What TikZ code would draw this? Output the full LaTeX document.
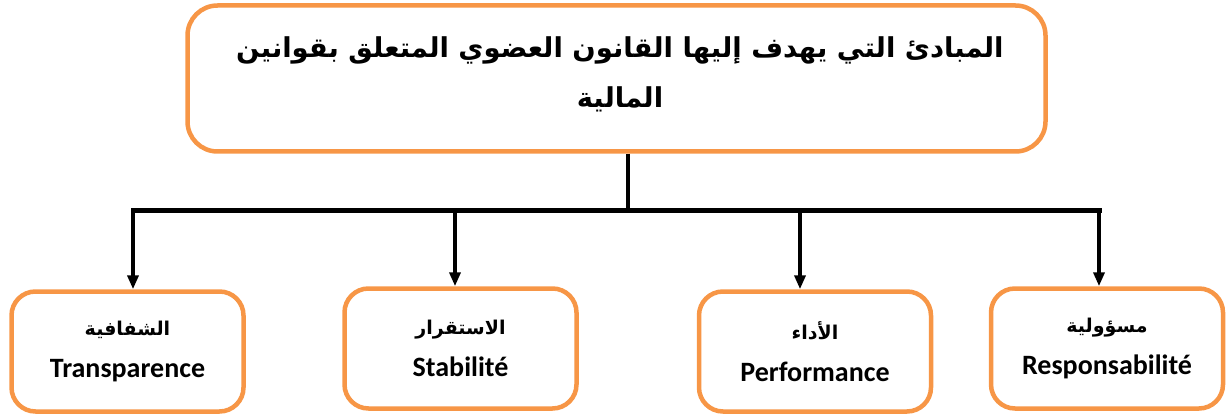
\documentclass[tikz,border=0pt]{standalone}
\usepackage{fontspec}
\usetikzlibrary{arrows.meta}
\TeXXeTstate=1
\newfontfamily\arabicfont[Script=Arabic]{DejaVu Sans}
\setmainfont{Carlito}
\definecolor{boxorange}{HTML}{F79646}
\newcommand\artext[1]{{\arabicfont\bfseries\fontsize{19}{22}\selectfont\beginR #1\endR}}
\begin{document}
\begin{tikzpicture}[x=1pt,y=-1pt,
  box/.style={draw=boxorange,line width=4.5pt,fill=white,rounded corners=24pt,
    align=center,inner sep=0pt},
  topbox/.style={box,rounded corners=30pt,minimum width=858pt,minimum height=146pt},
  titletext/.style={align=center,font=\arabicfont\bfseries\fontsize{27.4}{50}\selectfont},
  leafbox/.style={box,minimum width=232pt,minimum height=120pt,
    font=\bfseries\fontsize{28}{42}\selectfont},
  stem/.style={line width=3.5pt,black},
  bar/.style={line width=5pt,black,line cap=rect},
  arrow/.style={stem,-{Triangle[length=14pt,width=11pt]}}
]
\useasboundingbox (0,0) rectangle (1226,417);
% headline box
\node[topbox] (top) at (616.5,78.5) {};
\node[titletext] (title) at (620,74)
  {\beginR المبادئ التي يهدف إليها القانون العضوي المتعلق بقوانين\endR\\
   \beginR المالية\endR};
% four principle boxes
\node[leafbox] (b1) at (127.5,351.5) {\artext{الشفافية}\\Transparence};
\node[leafbox] (b2) at (460.5,348.5) {\artext{الاستقرار}\\Stabilité};
\node[leafbox] (b3) at (815,351.5) {\artext{الأداء}\\Performance};
\node[leafbox] (b4) at (1107,348.5) {\artext{مسؤولية}\\Responsabilité};
% branching connector
\coordinate (hub) at (628,210);
\coordinate (a1) at (133,210);
\coordinate (a2) at (455,210);
\coordinate (a3) at (800,210);
\coordinate (a4) at (1099,210);
\draw[stem] (top.south -| hub) -- (hub);
\draw[arrow] (a1) -- (a1 |- b1.north);
\draw[arrow] (a2) -- (a2 |- b2.north);
\draw[arrow] (a3) -- (a3 |- b3.north);
\draw[arrow] (a4) -- (a4 |- b4.north);
\draw[bar] (a1) -- (a4);
\end{tikzpicture}
\end{document}
